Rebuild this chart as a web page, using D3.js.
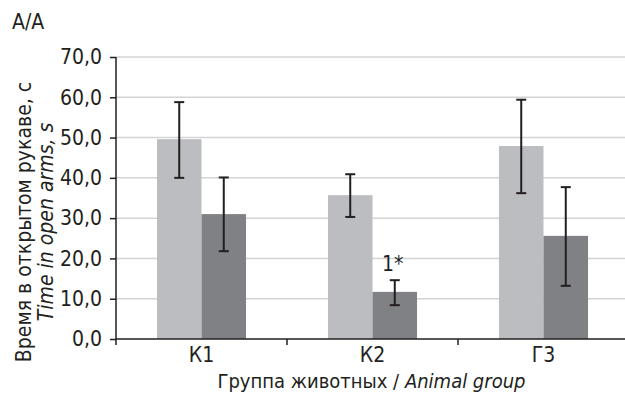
<!DOCTYPE html>
<html>
<head>
<meta charset="utf-8">
<script src="https://cdn.jsdelivr.net/npm/d3@7"></script>
<style>
  body { margin: 0; background: #fff; }
  text { font-family: "Liberation Sans Narrow", "Arial Narrow", "DejaVu Sans Condensed", sans-serif; fill: #231f20; }
</style>
</head>
<body>
<div id="chart"></div>
<script>
// data
var groups = ['К1', 'К2', 'Г3'];
var meanA = [49.6, 35.7, 47.9];       // light bars
var errLoA = [40.0, 30.3, 36.2];
var errHiA = [58.8, 40.9, 59.4];
var meanB = [31.0, 11.7, 25.6];       // dark bars
var errLoB = [21.8, 8.4, 13.2];
var errHiB = [40.1, 14.6, 37.7];
var yTicks = [0, 10, 20, 30, 40, 50, 60, 70];
var notes = [null, '1*', null];       // mark above dark bar

var width = 625, height = 395;
var mLeft = 116, mRight = 629, mTop = 57, mBottom = 339;

var svg = d3.select('#chart').append('svg')
  .attr('width', width)
  .attr('height', height);

var y = d3.scaleLinear().domain([0, 70]).range([mBottom, mTop]);
var x = d3.scaleBand().domain(groups).range([mLeft, mRight]).paddingInner(0).paddingOuter(0);
var sub = d3.scaleBand().domain(['a', 'b']).range([0, x.bandwidth()]).paddingInner(0).paddingOuter(0.92);

// grid lines
svg.append('g').selectAll('line')
  .data(yTicks.filter(function(d) { return d > 0; }))
  .join('line')
  .attr('x1', mLeft).attr('x2', mRight)
  .attr('y1', function(d) { return y(d); }).attr('y2', function(d) { return y(d); })
  .attr('stroke', '#d4d4d4').attr('stroke-width', 1.5);

// bars
var series = [
  {key: 'a', mean: meanA, lo: errLoA, hi: errHiA, color: '#bcbdc0'},
  {key: 'b', mean: meanB, lo: errLoB, hi: errHiB, color: '#808184'}
];

series.forEach(function(s) {
  var g = svg.append('g');
  g.selectAll('rect')
    .data(groups)
    .join('rect')
    .attr('x', function(d) { return x(d) + sub(s.key); })
    .attr('width', sub.bandwidth())
    .attr('y', function(d, i) { return y(s.mean[i]); })
    .attr('height', function(d, i) { return y(0) - y(s.mean[i]); })
    .attr('fill', s.color);

  // error bars
  var cx = function(d) { return x(d) + sub(s.key) + sub.bandwidth() / 2; };
  var eb = g.selectAll('g.err').data(groups).join('g').attr('class', 'err');
  eb.append('line')
    .attr('x1', cx).attr('x2', cx)
    .attr('y1', function(d, i) { return y(s.lo[i]); })
    .attr('y2', function(d, i) { return y(s.hi[i]); });
  eb.append('line')
    .attr('x1', function(d) { return cx(d) - 5; }).attr('x2', function(d) { return cx(d) + 5; })
    .attr('y1', function(d, i) { return y(s.hi[i]); })
    .attr('y2', function(d, i) { return y(s.hi[i]); });
  eb.append('line')
    .attr('x1', function(d) { return cx(d) - 5; }).attr('x2', function(d) { return cx(d) + 5; })
    .attr('y1', function(d, i) { return y(s.lo[i]); })
    .attr('y2', function(d, i) { return y(s.lo[i]); });
  eb.selectAll('line').attr('stroke', '#231f20').attr('stroke-width', 2);
});

// significance note
svg.append('g').selectAll('text')
  .data(groups.filter(function(d, i) { return notes[i]; }))
  .join('text')
  .attr('x', function(d) { return x(d) + sub('b') + sub.bandwidth() / 2 - 2; })
  .attr('y', function(d) { return y(errHiB[groups.indexOf(d)]) - 9; })
  .attr('text-anchor', 'middle')
  .attr('font-size', 21)
  .text(function(d) { return notes[groups.indexOf(d)]; });

// y axis
var yAxis = svg.append('g')
  .attr('transform', 'translate(' + mLeft + ',0)')
  .call(d3.axisLeft(y).tickValues(yTicks).tickSize(6).tickPadding(8)
    .tickFormat(function(d) { return d3.format('.1f')(d).replace('.', ','); }));
yAxis.attr('font-family', null).attr('font-size', null);
yAxis.select('.domain').attr('d', 'M0,' + mTop + 'V' + (mBottom + 6)).attr('stroke', '#231f20').attr('stroke-width', 1.5);
yAxis.selectAll('.tick line').attr('stroke', '#231f20').attr('stroke-width', 1.5);
yAxis.selectAll('text').attr('font-size', 21).attr('fill', '#231f20');

// x axis
var xAxis = svg.append('g')
  .attr('transform', 'translate(0,' + mBottom + ')')
  .call(d3.axisBottom(x).tickSize(0).tickPadding(8));
xAxis.attr('font-family', null).attr('font-size', null);
xAxis.select('.domain').attr('d', 'M' + mLeft + ',0H' + mRight).attr('stroke', '#231f20').attr('stroke-width', 1.5);
xAxis.selectAll('text').attr('font-size', 21).attr('fill', '#231f20');
xAxis.selectAll('line.sep')
  .data(groups.slice(1))
  .join('line')
  .attr('class', 'sep')
  .attr('x1', function(d) { return x(d); }).attr('x2', function(d) { return x(d); })
  .attr('y1', 0).attr('y2', 6)
  .attr('stroke', '#231f20').attr('stroke-width', 1.5);

// titles
svg.append('text')
  .attr('x', 12).attr('y', 29)
  .attr('font-size', 21)
  .text('А/А');

var xt = svg.append('text')
  .attr('x', (mLeft + mRight) / 2 - 1).attr('y', 388)
  .attr('text-anchor', 'middle')
  .attr('font-size', 20);
xt.append('tspan').text('Группа животных / ');
xt.append('tspan').attr('font-style', 'italic').text('Animal group');

var yt = svg.append('text')
  .attr('transform', 'translate(31,222) rotate(-90)')
  .attr('text-anchor', 'middle')
  .attr('font-size', 21);
yt.append('tspan').attr('x', 0).attr('y', 0).text('Время в открытом рукаве, с');
yt.append('tspan').attr('x', 0).attr('y', 22).attr('font-style', 'italic').text('Time in open arms, s');
</script>
</body>
</html>
